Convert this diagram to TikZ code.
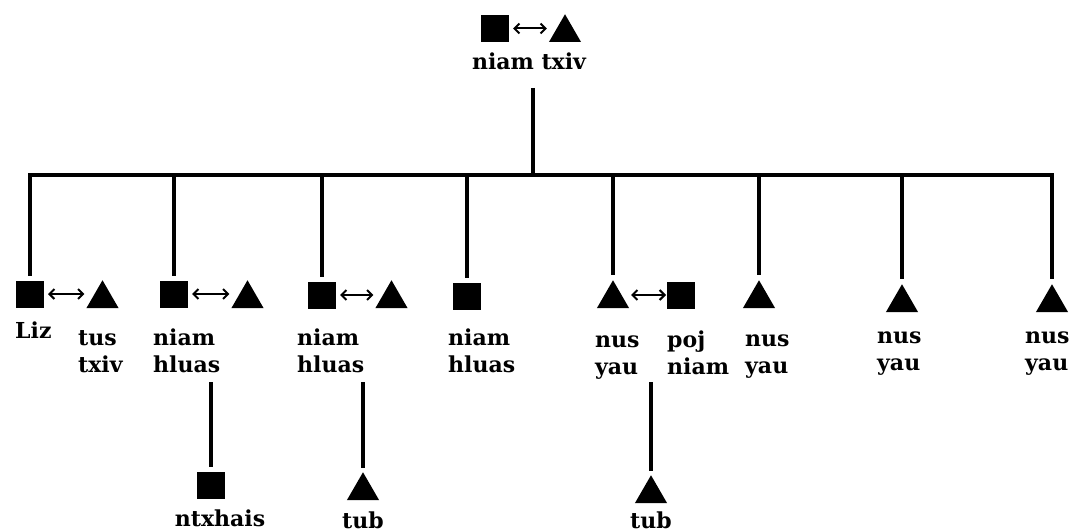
\documentclass[tikz,border=0pt]{standalone}
\usepackage{fontspec}
\setmainfont{DejaVu Serif}
\usetikzlibrary{arrows.meta,shapes.geometric}

\begin{document}
\begin{tikzpicture}[x=1pt,y=-1pt,
  sq/.style={fill=black, minimum width=28pt, minimum height=27pt, inner sep=0pt, outer sep=0pt},
  tri/.style={regular polygon, regular polygon sides=3, fill=black, minimum size=37pt,
              inner sep=0pt, outer sep=0pt, anchor=south},
  lbl/.style={font=\bfseries\fontsize{22}{27}\selectfont, align=left, inner sep=0pt, anchor=base west},
  clbl/.style={font=\bfseries\fontsize{22}{27}\selectfont, inner sep=0pt, anchor=base},
  link/.style={line width=3.4pt},
  spouse/.style={line width=2pt, {Straight Barb[length=5pt,width=10pt]}-{Straight Barb[length=5pt,width=10pt]}}
]
\useasboundingbox (0,0) rectangle (1075,532);

% parents
\node[sq]  (psq)  at (495,28.5) {};
\node[tri] (ptri) at (565,42) {};
\draw[spouse] ([xshift=4pt]psq.east) -- ([xshift=-2pt]psq.east -| ptri.corner 2);
\node[clbl] (plbl) at (529,70) {niam txiv};

% children row
\node[sq]  (c1sq)  at (30,294) {};
\node[tri] (c1tri) at (102.5,308) {};
\node[sq]  (c2sq)  at (174,294) {};
\node[tri] (c2tri) at (247.5,308) {};
\node[sq]  (c3sq)  at (322,295) {};
\node[tri] (c3tri) at (391.5,308) {};
\node[sq]  (c4sq)  at (467,296) {};
\node[tri] (c5tri) at (613,308) {};
\node[sq]  (c5sq)  at (681,295) {};
\node[tri] (c6tri) at (759,308) {};
\node[tri] (c7tri) at (902,312) {};
\node[tri] (c8tri) at (1052,312) {};

\draw[spouse] ([xshift=4pt]c1sq.east) -- ([xshift=-2pt]c1sq.east -| c1tri.corner 2);
\draw[spouse] ([xshift=4pt]c2sq.east) -- ([xshift=-2pt]c2sq.east -| c2tri.corner 2);
\draw[spouse] ([xshift=4pt]c3sq.east) -- ([xshift=-2pt]c3sq.east -| c3tri.corner 2);
\draw[spouse] ([xshift=2pt]c5sq.west -| c5tri.corner 3) -- ([xshift=-1pt]c5sq.west);

% labels of the children row (anchored at the baseline of the last line)
\node[lbl] (c1lbl)  at (15,338)  {Liz};
\node[lbl] (c1slbl) at (78,372)  {tus\\txiv};
\node[lbl] (c2lbl)  at (153,372) {niam\\hluas};
\node[lbl] (c3lbl)  at (297,372) {niam\\hluas};
\node[lbl] (c4lbl)  at (448,372) {niam\\hluas};
\node[lbl] (c5lbl)  at (595,374) {nus\\yau};
\node[lbl] (c5slbl) at (667,374) {poj\\niam};
\node[lbl] (c6lbl)  at (745,373) {nus\\yau};
\node[lbl] (c7lbl)  at (877,370) {nus\\yau};
\node[lbl] (c8lbl)  at (1025,370) {nus\\yau};

% grandchildren
\node[sq]  (g2sq)  at (211,485) {};
\node[clbl] (g2lbl) at (220,526) {ntxhais};
\node[tri] (g3tri) at (363,500) {};
\node[clbl] (g3lbl) at (363,528) {tub};
\node[tri] (g5tri) at (651,503) {};
\node[clbl] (g5lbl) at (651,528) {tub};

% descent lines
\coordinate (ptop) at (533,88);
\coordinate (hub)  at (533,175);
\draw[link] (ptop) -- (hub);
\draw[link, line join=miter]
  ([yshift=5pt]c1sq.north) -- (c1sq.north |- hub) -- (c8tri.north |- hub) -- ([yshift=5pt]c8tri.north);
\foreach \n in {c2sq,c3sq,c4sq,c5tri,c6tri,c7tri}
  \draw[link] (\n.north |- hub) -- ([yshift=5pt]\n.north);

\coordinate (g2up) at (211,382);
\coordinate (g3up) at (363,382);
\coordinate (g5up) at (651,382);
\draw[link] (g2up) -- ([yshift=5pt]g2sq.north);
\draw[link] (g3up) -- ([yshift=4pt]g3tri.north);
\draw[link] (g5up) -- ([yshift=4pt]g5tri.north);
\end{tikzpicture}
\end{document}
